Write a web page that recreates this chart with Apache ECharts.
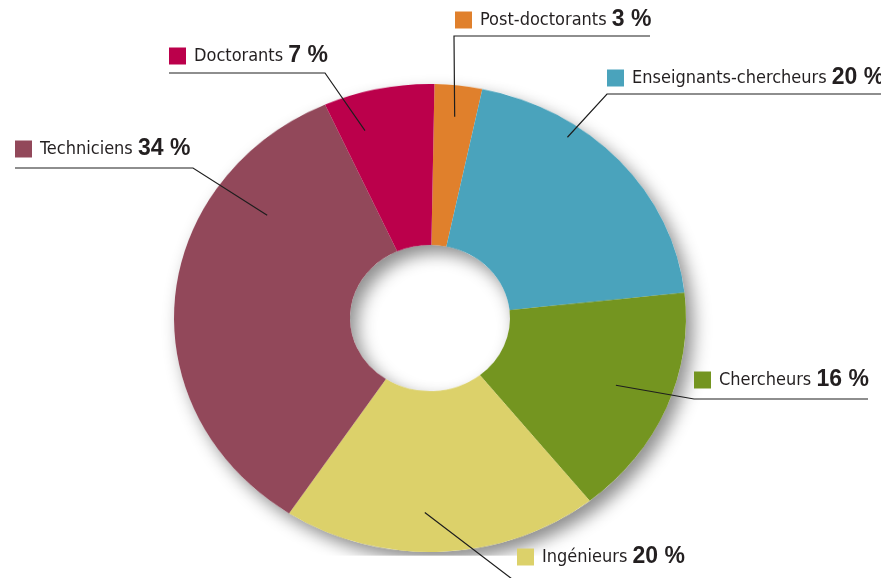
<!DOCTYPE html>
<html>
<head>
<meta charset="utf-8">
<script src="https://cdn.jsdelivr.net/npm/echarts@6/dist/echarts.min.js"></script>
<style>
  html, body { margin: 0; padding: 0; background: #fff; }
  #wrap { position: relative; width: 881px; height: 578px; overflow: hidden; }
  #pie, #labels { position: absolute; left: 0; top: 0; width: 881px; height: 578px; }
  /* the donut is drawn as an ellipse: squash the pie layer only */
  #pie { transform: scaleY(0.914); transform-origin: 430px 318px; }
</style>
</head>
<body>
<div id="wrap">
  <div id="pie"></div>
  <div id="labels"></div>
</div>
<script>
// clockwise from the top
var names = ['Post-doctorants', 'Enseignants-chercheurs', 'Chercheurs', 'Ingénieurs', 'Techniciens', 'Doctorants']
var percents = [3, 20, 16, 20, 34, 7]
var colors = ['#E0802C', '#4AA3BC', '#749520', '#DCD16A', '#92485A', '#BB004B']

// where each label sits (left of the square, middle), its underline,
// and how far the leader's start is turned / pushed from the slice middle
var labelSpots = [
  { x: 455, y: 20, lineY: 36, x0: 454, x1: 650, side: 'right', turn: 0, reach: 1.03 },
  { x: 607, y: 78, lineY: 94, x0: 607, x1: 881, side: 'right', turn: -13, reach: 1.12 },
  { x: 694, y: 380, lineY: 399, x0: 694, x1: 868, side: 'right', turn: -1, reach: 0.93 },
  { x: 517, y: 557, lineY: 582, x0: 516, x1: 690, side: 'right', turn: 4, reach: 0.99 },
  { x: 15, y: 149, lineY: 168, x0: 15, x1: 193, side: 'left', turn: 30, reach: 0.92 },
  { x: 169, y: 56, lineY: 73, x0: 169, x1: 325, side: 'left', turn: -6, reach: 1.0 }
]

var cx = 430
var cy = 318
var squash = 0.914
var rIn = 80
var rOut = 256
var rDot = 215
var start = 89

var pieChart = echarts.init(document.getElementById('pie'))
pieChart.setOption({
  animation: false,
  series: [{
    // white ring underneath, only there for the soft shadow
    type: 'pie',
    silent: true,
    center: [cx, cy],
    radius: [rIn, rOut],
    startAngle: start,
    label: { show: false },
    labelLine: { show: false },
    itemStyle: {
      color: '#fff',
      borderWidth: 0,
      shadowBlur: 18,
      shadowOffsetX: 7,
      shadowOffsetY: 9,
      shadowColor: 'rgba(0,0,0,0.45)'
    },
    data: [{ name: 'ombre', value: 100 }]
  }, {
    type: 'pie',
    silent: true,
    center: [cx, cy],
    radius: [rIn, rOut],
    startAngle: start,
    label: { show: false },
    labelLine: { show: false },
    itemStyle: { borderWidth: 0 },
    data: names.map(function (n, i) {
      return { name: n, value: percents[i], itemStyle: { color: colors[i] } }
    })
  }]
})

var rich = {
  g: { width: 8, verticalAlign: 'middle' },
  n: { fontFamily: 'DejaVu Sans Condensed', fontSize: 18, color: '#231F20', verticalAlign: 'middle' },
  p: { fontFamily: 'Liberation Sans', fontWeight: 'bold', fontSize: 23, color: '#231F20', verticalAlign: 'middle' }
}
colors.forEach(function (c, i) {
  rich['s' + i] = { width: 17, height: 17, backgroundColor: c, verticalAlign: 'middle' }
})

var labelChart = echarts.init(document.getElementById('labels'))
labelChart.setOption({
  animation: false,
  series: [{
    type: 'pie',
    silent: true,
    center: [cx, cy],
    radius: [0, rDot],
    startAngle: start,
    avoidLabelOverlap: false,
    itemStyle: { color: 'rgba(0,0,0,0)', borderWidth: 0 },
    label: {
      show: true,
      position: 'outside',
      overflow: 'none',
      formatter: function (p) {
        return '{s' + p.dataIndex + '|}{g|}{n|' + p.name + ' }{p|' + percents[p.dataIndex] + ' %}'
      },
      rich: rich
    },
    labelLine: {
      show: true,
      length: 10,
      length2: 10,
      lineStyle: { color: '#1E1E1E', width: 1.2 }
    },
    labelLayout: function (params) {
      var L = labelSpots[params.dataIndex]
      var p0 = params.labelLinePoints ? params.labelLinePoints[0] : [cx, cy - rDot]
      var a = Math.atan2(p0[1] - cy, p0[0] - cx) + L.turn * Math.PI / 180
      var r = rDot * L.reach
      var dot = [cx + r * Math.cos(a), cy + r * Math.sin(a) * squash]
      var bend = L.side === 'left' ? [L.x1, L.lineY] : [L.x0, L.lineY]
      var end = L.side === 'left' ? [L.x0, L.lineY] : [L.x1, L.lineY]
      return {
        x: L.x,
        y: L.y,
        align: 'left',
        verticalAlign: 'middle',
        labelLinePoints: [dot, bend, end]
      }
    },
    data: names.map(function (n, i) {
      return { name: n, value: percents[i] }
    })
  }]
})
</script>
</body>
</html>
